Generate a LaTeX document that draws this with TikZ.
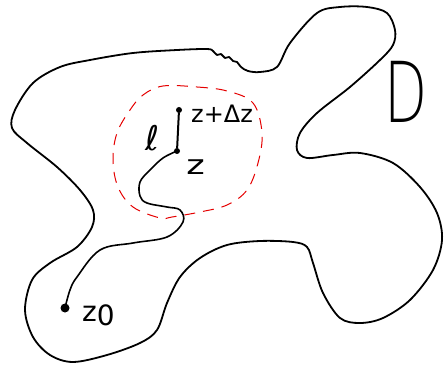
\documentclass[tikz,border=0pt]{standalone}
\usepackage{fontspec}
\setmainfont{DejaVu Sans}
\newfontfamily\thinfont{DejaVu Sans ExtraLight}
\begin{document}
\begin{tikzpicture}[x=1pt,y=-1pt,
  outline/.style={line width=1.8pt,line join=round,line cap=round},
  hand/.style={line width=2pt,line cap=round},
  disc/.style={dashed,dash pattern=on 11pt off 8pt,red!90!black,line width=1pt},
  bigdot/.style={circle,fill=black,inner sep=0pt,minimum size=9pt},
  smalldot/.style={circle,fill=black,inner sep=0pt,minimum size=6pt},
  lab/.style={inner sep=0pt}]
\useasboundingbox (0,0) rectangle (444,366);
% domain boundary
\draw[outline] plot[smooth cycle,tension=0.55] coordinates {
 (12,128) (15,110) (33,83) (60,67) (90,60) (133,53) (177,50) (207,49)
 (213,51) (217,55) (221,54) (225,58) (229,57) (233,61) (237,62) (241,67) (248,71)
 (260,72) (277,67) (290,43) (317,13) (340,7) (367,7) (387,13) (395,30) (393,45)
 (380,60) (350,87) (317,113) (300,133) (297,150) (307,158) (333,155) (360,153)
 (393,163) (420,187) (437,213) (442,240) (433,270) (410,300) (383,318) (360,323)
 (340,318) (323,293) (313,263) (307,247) (293,242) (260,241) (227,245) (200,258)
 (180,277) (167,303) (157,330) (140,343) (107,355) (73,362) (50,355) (33,337)
 (25,310) (32,280) (50,263) (77,247) (92,227) (93,210) (80,190) (57,167) (27,143)};
% red dashed neighbourhood
\draw[disc] plot[smooth cycle,tension=0.6] coordinates {
 (163,86) (197,87) (227,91) (253,103) (262,133) (258,163) (247,190) (227,205)
 (200,212) (172,217) (160,218) (133,207) (118,187) (113,160) (117,133) (130,110) (143,95)};
% points
\node[bigdot] (z0) at (65,308) {};
\node[smalldot] (z) at (177,151) {};
\node[smalldot] (zd) at (179,110) {};
% path from z0 to z
\draw[line width=1.6pt,line cap=round] plot[smooth,tension=0.6] coordinates {
 (z0) (70,290) (77,277) (100,250) (133,243) (167,237) (183,222) (180,210)
 (167,207) (147,203) (140,196) (140,182) (150,170) (163,158) (z)};
% segment l
\draw[hand] (z) -- (zd);
% labels
\node[lab,anchor=west] (lzd) at (191,114) {\fontsize{24}{24}\selectfont z+Δz};
\node[lab,anchor=west,xscale=1.3] (lz) at (186,167) {\fontsize{27}{27}\selectfont z};
\node[lab] (ll) at (153,138) {\fontsize{34}{34}\selectfont ℓ};
\node[lab,anchor=west] (lz0) at (82,315) {\fontsize{28}{28}\selectfont z\raisebox{-4pt}{0}};
\node[lab,xscale=0.8,yscale=1.2] (D) at (406,92) {\thinfont\fontsize{70}{70}\selectfont D};
\end{tikzpicture}
\end{document}
